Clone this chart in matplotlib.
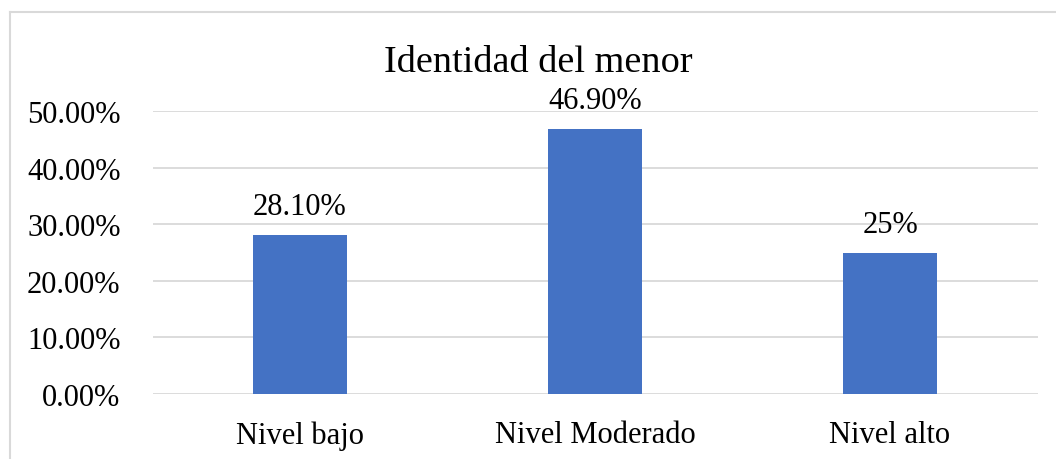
import matplotlib
matplotlib.use("Agg")
import matplotlib.pyplot as plt
from matplotlib.lines import Line2D
from matplotlib.ticker import FixedLocator, FuncFormatter

categories = ["Nivel bajo", "Nivel Moderado", "Nivel alto"]
values = [0.281, 0.469, 0.25]
value_labels = ["28.10%", "46.90%", "25%"]
title = "Identidad del menor"
y_ticks = [0.0, 0.1, 0.2, 0.3, 0.4, 0.5]

plt.rcParams['font.family'] = ['Liberation Serif', 'DejaVu Serif']

W, H = 1056, 460
fig = plt.figure(figsize=(W / 100, H / 100), dpi=100)
fig.patch.set_facecolor("white")

# outer chart border (left and top visible)
border_col = "#D9D9D9"
fig.add_artist(Line2D([10 / W, 10 / W], [0, 1 - 13 / H], transform=fig.transFigure,
                      color=border_col, lw=1.5))
fig.add_artist(Line2D([10 / W, 1], [1 - 13 / H, 1 - 13 / H], transform=fig.transFigure,
                      color=border_col, lw=1.5))

left, right = 152.5 / W, 1037.5 / W
top, bottom = 1 - 112.3 / H, 1 - 394.7 / H
ax = fig.add_axes([left, bottom, right - left, top - bottom])

x = list(range(len(categories)))
ax.bar(x, values, width=0.32, color="#4472C4", zorder=3)
ax.set_xlim(-0.5, len(categories) - 0.5)
ax.set_ylim(0, 0.5)

ax.yaxis.set_major_locator(FixedLocator(y_ticks))
ax.yaxis.set_major_formatter(FuncFormatter(lambda v, p: f"{v * 100:.2f}%"))
ax.grid(axis="y", color="#D9D9D9", lw=1.3, zorder=0)
ax.set_xticks(x)
ax.set_xticklabels(categories)
ax.tick_params(axis="y", length=0, pad=23, labelsize=22)
ax.tick_params(axis="x", length=0, pad=19, labelsize=22)
for s in ax.spines.values():
    s.set_visible(False)
ax.set_axisbelow(True)

for xi, v, lab in zip(x, values, value_labels):
    ax.annotate(lab, (xi, v), xytext=(0, 10), textcoords="offset points",
                ha="center", va="bottom", fontsize=22)

fig.text(538.5 / W, 1 - 71.7 / H, title, ha="center", va="baseline", fontsize=27.5)

fig.savefig("out.png", dpi=100, facecolor="white")
